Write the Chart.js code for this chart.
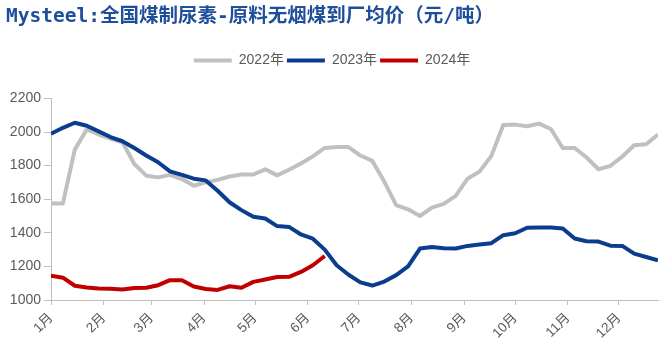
<!DOCTYPE html>
<html>
<head>
<meta charset="utf-8">
<script src="https://cdn.jsdelivr.net/npm/chart.js@4.4.1/dist/chart.umd.min.js"></script>
<style>
    html, body { margin: 0; padding: 0; background: #fff; }
    #wrap { position: relative; width: 660px; height: 345px; }
</style>
</head>
<body>
<div id="wrap"><canvas id="chartMeiTan"></canvas></div>
<script>
// 月份刻度（按年内天数）
const months = ['1月', '2月', '3月', '4月', '5月', '6月', '7月', '8月', '9月', '10月', '11月', '12月'];
const monthStart = [0, 31, 59, 90, 120, 151, 181, 212, 243, 273, 304, 334];

// 周度均价，元/吨
const price2022 = [1575, 1575, 1895, 2015, 1985, 1960, 1940, 1810, 1740, 1730, 1745, 1720, 1680,
    1700, 1715, 1735, 1747, 1747, 1778, 1742, 1775, 1812, 1855, 1905, 1910, 1910,
    1860, 1828, 1705, 1565, 1540, 1500, 1550, 1572, 1620, 1722, 1764, 1858, 2042,
    2044, 2034, 2050, 2018, 1905, 1905, 1848, 1778, 1798, 1854, 1921, 1927, 1985];
const price2023 = [1990, 2025, 2055, 2037, 2004, 1970, 1945, 1905, 1860, 1820, 1766, 1745, 1722,
    1712, 1650, 1582, 1535, 1495, 1485, 1440, 1435, 1390, 1365, 1300, 1207, 1150,
    1105, 1086, 1110, 1148, 1200, 1306, 1316, 1308, 1307, 1322, 1330, 1338, 1386,
    1397, 1430, 1432, 1432, 1426, 1366, 1350, 1348, 1323, 1322, 1276, 1256, 1236];
const price2024 = [1145, 1133, 1085, 1075, 1069, 1067, 1063, 1072, 1073, 1088, 1118, 1118, 1080,
    1065, 1060, 1082, 1073, 1108, 1122, 1137, 1138, 1167, 1207, 1262];

const toPoints = arr => arr.map((v, i) => ({ x: i * 7, y: v }));

const serie = (label, values, color, order) => ({
    label: label,
    data: toPoints(values),
    borderColor: color,
    backgroundColor: color,
    borderWidth: 4,
    pointRadius: 0,
    tension: 0,
    borderJoinStyle: 'round',
    order: order
});

const fontLatin = "'Liberation Sans', 'Noto Sans CJK SC', sans-serif";

var chartMeiTan = new Chart(document.getElementById('chartMeiTan'), {
    type: 'line',
    data: {
        datasets: [
            serie('2022年', price2022, '#c0c0c0', 3),
            serie('2023年', price2023, '#0b3d8e', 2),
            serie('2024年', price2024, '#c00000', 1)
        ]
    },
    options: {
        responsive: true,
        maintainAspectRatio: false,
        animation: false,
        layout: { padding: { left: 6, right: 2, top: 0, bottom: 0 } },
        plugins: {
            tooltip: { enabled: false },
            title: {
                display: true,
                text: 'Mysteel:全国煤制尿素-原料无烟煤到厂均价（元/吨）',
                align: 'start',
                color: '#1f4e9b',
                font: { family: "'DejaVu Sans Mono', 'Noto Sans CJK SC'", size: 19.5, weight: 'bold' },
                padding: { top: 5, bottom: 22 }
            },
            legend: {
                position: 'top',
                labels: {
                    boxWidth: 38,
                    boxHeight: 4,
                    padding: 3,
                    color: '#595959',
                    font: { family: fontLatin, size: 14 },
                    sort: (a, b) => a.datasetIndex - b.datasetIndex,
                    generateLabels: chart => Chart.defaults.plugins.legend.labels.generateLabels(chart)
                        .map(item => ({ ...item, lineWidth: 0 }))
                }
            }
        },
        scales: {
            x: {
                type: 'linear',
                min: 0,
                max: 357,
                afterBuildTicks: axis => { axis.ticks = monthStart.map(d => ({ value: d })); },
                afterFit: axis => { axis.height = 45; },
                grid: { display: true, drawOnChartArea: false, drawTicks: true, tickLength: 5, color: '#bfbfbf' },
                border: { display: true, color: '#bfbfbf', width: 1 },
                ticks: {
                    autoSkip: false,
                    minRotation: 45,
                    maxRotation: 45,
                    padding: 5,
                    color: '#595959',
                    font: { family: fontLatin, size: 13.5 },
                    callback: (value, index) => months[index]
                }
            },
            // 图例与绘图区之间的留白
            xGap: {
                type: 'linear',
                position: 'top',
                grid: { display: false },
                border: { display: false },
                ticks: { display: false },
                afterFit: axis => { axis.height = 21; }
            },
            y: {
                min: 1000,
                max: 2200,
                afterFit: axis => { axis.width = 45; },
                grid: { display: true, drawOnChartArea: false, drawTicks: true, tickLength: 7, color: '#bfbfbf' },
                border: { display: true, color: '#bfbfbf', width: 1 },
                ticks: {
                    stepSize: 200,
                    padding: 3,
                    color: '#595959',
                    font: { family: fontLatin, size: 14 },
                    callback: v => String(v)
                }
            }
        }
    }
});
</script>
</body>
</html>
